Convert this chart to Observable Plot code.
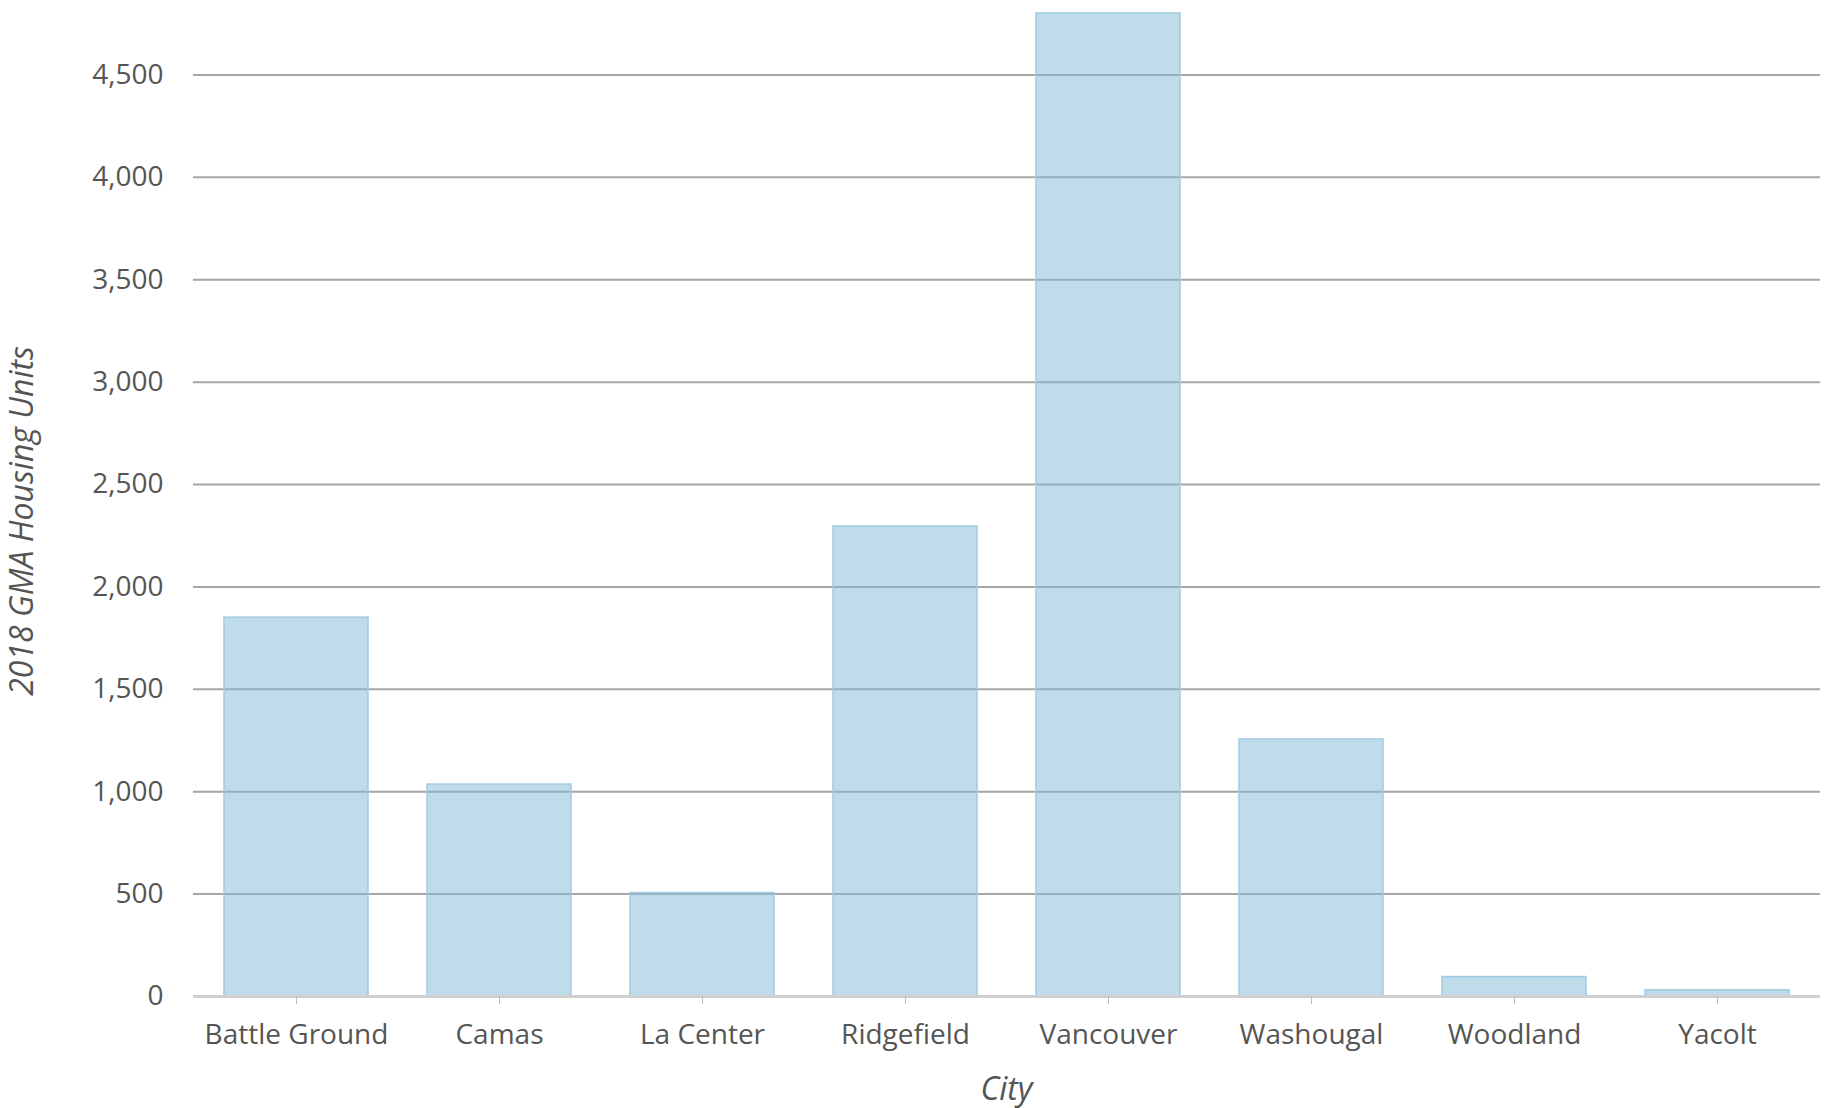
<!DOCTYPE html>
<html>
<head>
<meta charset="utf-8">
<script src="https://cdn.jsdelivr.net/npm/d3@7"></script>
<script src="https://cdn.jsdelivr.net/npm/@observablehq/plot@0.6"></script>
<style>
  html, body { margin: 0; padding: 0; background: #fff; }
  #chart svg { display: block; }
</style>
</head>
<body>
<div id="chart"></div>
<script>
const cities = ["Battle Ground", "Camas", "La Center", "Ridgefield", "Vancouver", "Washougal", "Woodland", "Yacolt"];
const units = [1850, 1035, 505, 2295, 4800, 1255, 95, 30];
const yTicks = [0, 500, 1000, 1500, 2000, 2500, 3000, 3500, 4000, 4500];
const xTitle = "City";
const yTitle = "2018 GMA Housing Units";

const data = cities.map((c, i) => ({city: c, value: units[i]}));
const fmt = d3.format(",");

const chart = Plot.plot({
  width: 1832,
  height: 1108,
  marginLeft: 193,
  marginRight: 12,
  marginTop: 13,
  marginBottom: 112,
  style: {fontFamily: "'Open Sans', sans-serif", fontSize: "28px", color: "#555", background: "#fff"},
  x: {domain: cities, paddingInner: 0.29, paddingOuter: 0.145, label: null},
  y: {domain: [0, 4800], label: null},
  marks: [
    Plot.ruleY(yTicks.filter(d => d > 0), {stroke: "#a6a6a6", strokeWidth: 2}),
    Plot.barY(data, {x: "city", y: "value", fill: "#82b9d8", fillOpacity: 0.5, stroke: "#9ecbe3", strokeWidth: 1.5}),
    Plot.ruleY([0], {stroke: "#d0d0d0", strokeWidth: 3}),
    Plot.axisY({ticks: yTicks, tickFormat: fmt, tickSize: 0, tickPadding: 30, fontSize: 28, fill: "#555", label: null}),
    Plot.axisX({tickSize: 8, tickPadding: 20, stroke: "#bdbdbd", fontSize: 28, fill: "#555", label: null})
  ]
});

const svg = d3.select(chart);
svg.append("text")
  .attr("x", (193 + 1820) / 2).attr("y", 1100)
  .attr("text-anchor", "middle")
  .style("font-style", "italic").style("font-size", "32px").style("fill", "#555")
  .style("font-family", "'Open Sans', sans-serif")
  .text(xTitle);
svg.append("text")
  .attr("transform", "translate(33,521) rotate(-90)")
  .attr("text-anchor", "middle")
  .style("font-style", "italic").style("font-size", "32px").style("fill", "#555")
  .style("font-family", "'Open Sans', sans-serif")
  .text(yTitle);

document.getElementById("chart").appendChild(chart);
</script>
</body>
</html>
